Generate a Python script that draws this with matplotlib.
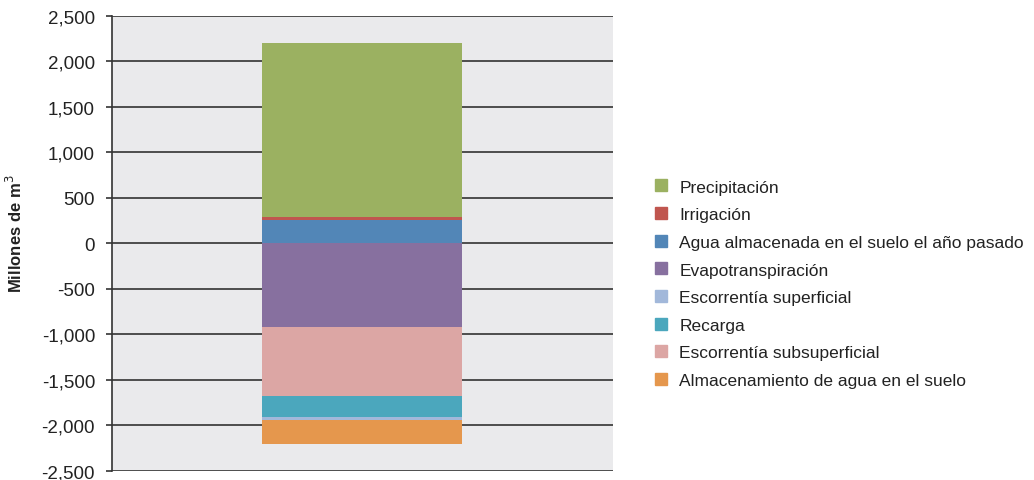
import numpy as np
import matplotlib.pyplot as plt
from matplotlib.lines import Line2D
from matplotlib.ticker import FuncFormatter

plt.rcParams['font.family'] = ['Liberation Sans', 'DejaVu Sans']

# componentes del balance (millones de m3)
pos_names = ['Agua almacenada en el suelo el año pasado', 'Irrigación', 'Precipitación']
pos_vals = [255, 35, 1910]
neg_names = ['Evapotranspiración', 'Escorrentía subsuperficial', 'Recarga',
             'Escorrentía superficial', 'Almacenamiento de agua en el suelo']
neg_vals = [-925, -750, -230, -35, -270]

colores = {
    'Precipitación': '#9bb161',
    'Irrigación': '#c0564f',
    'Agua almacenada en el suelo el año pasado': '#5286b7',
    'Evapotranspiración': '#87709f',
    'Escorrentía superficial': '#a2b8da',
    'Recarga': '#4ba7bd',
    'Escorrentía subsuperficial': '#dca6a4',
    'Almacenamiento de agua en el suelo': '#e5974d',
}
orden_leyenda = ['Precipitación', 'Irrigación', 'Agua almacenada en el suelo el año pasado',
                 'Evapotranspiración', 'Escorrentía superficial', 'Recarga',
                 'Escorrentía subsuperficial', 'Almacenamiento de agua en el suelo']

fig = plt.figure(figsize=(10.34, 4.81), dpi=100)
ax = fig.add_axes([0.108, 0.019, 0.4846, 0.9462])
ax.set_facecolor('#eaeaec')

base = 0
for n, v in zip(pos_names, pos_vals):
    ax.bar(0, v, bottom=base, width=0.4, color=colores[n], zorder=3)
    base += v
base = 0
for n, v in zip(neg_names, neg_vals):
    ax.bar(0, v, bottom=base, width=0.4, color=colores[n], zorder=3)
    base += v

ax.set_xlim(-0.5, 0.5)
ax.set_ylim(-2500, 2500)
ax.set_yticks(np.arange(-2500, 2501, 500))
ax.yaxis.set_major_formatter(FuncFormatter(lambda v, p: '{:,.0f}'.format(v)))
ax.set_xticks([])
ax.grid(axis='y', color='#333333', lw=1.2, zorder=1)
ax.tick_params(axis='y', length=4, width=1.2, color='#333333', labelsize=13.5, pad=8,
               labelcolor='#222222')
for s in ['top', 'right', 'bottom']:
    ax.spines[s].set_visible(False)
ax.spines['left'].set_color('#333333')
ax.spines['left'].set_linewidth(1.2)

fig.text(0.014, 0.5146, 'Millones de m$^3$', rotation=90, fontsize=12, fontweight='bold',
         ha='center', va='center', color='#222222')

handles = [Line2D([], [], marker='s', ls='', markersize=8, color=colores[n]) for n in orden_leyenda]
fig.legend(handles, orden_leyenda, loc='center left', bbox_to_anchor=(0.616, 0.408),
           frameon=False, fontsize=12.5, handlelength=1.0, handletextpad=0.55,
           labelspacing=0.72, labelcolor='#222222')

fig.savefig('out.png', dpi=100)
